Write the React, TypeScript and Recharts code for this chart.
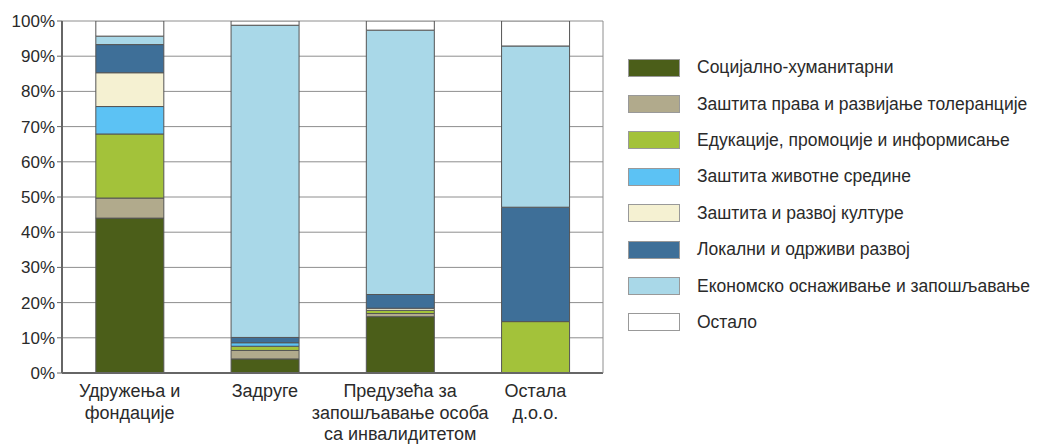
import React from "react";
import { BarChart, Bar, XAxis, YAxis, CartesianGrid } from "recharts";

const categories = [
  "Удружења и\nфондације",
  "Задруге",
  "Предузећа за\nзапошљавање особа\nса инвалидитетом",
  "Остала\nд.о.о.",
];

const seriesNames = [
  "Социјално-хуманитарни",
  "Заштита права и развијање толеранције",
  "Едукације, промоције и информисање",
  "Заштита животне средине",
  "Заштита и развој културе",
  "Локални и одрживи развој",
  "Економско оснаживање и запошљавање",
  "Остало",
];

const seriesColors = [
  "#4b5e19",
  "#b1aa8c",
  "#a3c23a",
  "#5cc2f4",
  "#f5f1d2",
  "#3e6f98",
  "#a9d8e8",
  "#ffffff",
];

const socijalno = [44, 4, 16, 0];
const zastitaPrava = [5.7, 2.4, 0.9, 0];
const edukacije = [18.2, 1.2, 0.9, 14.6];
const zivotnaSredina = [7.8, 1, 0, 0];
const kultura = [9.6, 0, 0.6, 0];
const lokalni = [8, 1.5, 3.9, 32.5];
const ekonomsko = [2.4, 88.7, 75.1, 45.8];
const ostalo = [4.3, 1.2, 2.6, 7.1];

const yTicks = [0, 10, 20, 30, 40, 50, 60, 70, 80, 90, 100];

const seriesValues = [
  socijalno,
  zastitaPrava,
  edukacije,
  zivotnaSredina,
  kultura,
  lokalni,
  ekonomsko,
  ostalo,
];

const data = categories.map((c, i) => {
  const row: Record<string, any> = { name: c };
  seriesValues.forEach((vals, s) => {
    row["s" + s] = vals[i];
  });
  return row;
});

const FONT = "'Liberation Sans', Arial, sans-serif";

const XTick = (props: any) => {
  const { x, y, payload } = props;
  const lines = String(payload.value).split("\n");
  return (
    <g transform={`translate(${x},${y})`}>
      <text textAnchor="middle" fontSize={18} fill="#2a2a2a" fontFamily={FONT}>
        {lines.map((l, i) => (
          <tspan key={i} x={0} dy={i === 0 ? 24 : 21.5}>
            {l}
          </tspan>
        ))}
      </text>
    </g>
  );
};

export default function App() {
  return (
    <div style={{ position: "relative", width: 1034, height: 436, fontFamily: FONT }}>
      <BarChart
        width={1034}
        height={436}
        data={data}
        margin={{ top: 13, right: 438, bottom: 0, left: 0 }}
        barCategoryGap="25%"
      >
        <CartesianGrid vertical={false} stroke="#8e8e8e" strokeWidth={1} />
        <XAxis
          dataKey="name"
          tick={<XTick />}
          tickLine={false}
          tickSize={0}
          tickMargin={0}
          interval={0}
          height={71}
          axisLine={{ stroke: "#666", strokeWidth: 2 }}
        />
        <YAxis
          domain={[0, 100]}
          allowDataOverflow
          ticks={yTicks}
          tickFormatter={(v: number) => `${v}%`}
          width={54}
          tickSize={5}
          tickMargin={2}
          tickLine={{ stroke: "#666" }}
          axisLine={{ stroke: "#666", strokeWidth: 2 }}
          tick={{ fontSize: 17, fill: "#2a2a2a", fontFamily: FONT }}
        />
        <YAxis
          yAxisId="r"
          orientation="right"
          width={1}
          tick={false}
          tickLine={false}
          axisLine={{ stroke: "#8e8e8e" }}
        />
        {seriesNames.map((n, s) => (
          <Bar
            key={n}
            dataKey={"s" + s}
            name={n}
            stackId="a"
            fill={seriesColors[s]}
            stroke="#555"
            strokeWidth={1}
            isAnimationActive={false}
          />
        ))}
      </BarChart>
      <div style={{ position: "absolute", left: 620, top: 41.5 }}>
        {seriesNames.map((n, s) => (
          <div
            key={n}
            style={{
              display: "flex",
              alignItems: "center",
              height: 36.4,
              whiteSpace: "nowrap",
            }}
          >
            <div
              style={{
                width: 52,
                height: 18,
                background: seriesColors[s],
                border: "1px solid #999",
                boxSizing: "border-box",
                marginRight: 17,
                flexShrink: 0,
              }}
            />
            <span style={{ fontSize: 17.5, color: "#2a2a2a" }}>{n}</span>
          </div>
        ))}
      </div>
    </div>
  );
}
